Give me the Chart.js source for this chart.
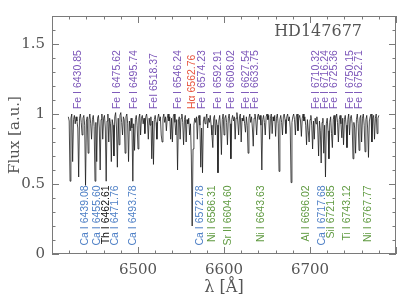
<!DOCTYPE html>
<html><head><meta charset="utf-8">
<script src="https://cdn.jsdelivr.net/npm/chart.js@4"></script>
<style>html,body{margin:0;padding:0;background:#fff}#wrap{width:403px;height:300px}</style>
</head><body><div id="wrap"><canvas id="c" width="403" height="300"></canvas></div>
<script>
// ---------- DATA ----------
const startWavelength = 6419;   // first sample (Å)
const wavelengthStep = 1;       // sampling (Å)
const flux = [
 0.98,0.95,0.52,0.97,1.00,0.66,0.96,0.99,0.93,0.98,
 0.95,0.90,0.55,0.97,1.00,0.94,0.85,0.97,0.99,0.92,
 0.49,0.95,0.98,0.72,0.96,1.00,0.93,0.82,0.96,0.99,
 0.91,0.52,0.94,0.66,0.97,0.99,0.90,0.60,0.96,1.00,
 0.82,0.97,0.99,0.90,0.52,0.95,1.00,0.80,0.97,0.93,
 0.66,0.96,0.92,0.70,0.98,1.01,0.90,0.62,0.97,0.78,
 0.99,1.01,0.94,0.85,0.98,0.96,0.72,0.98,1.00,0.93,
 0.66,0.95,0.88,0.97,0.90,0.52,0.93,0.74,0.96,0.99,
 0.92,0.75,0.97,1.00,0.85,0.97,0.99,0.93,0.97,0.86,
 0.98,1.00,0.95,0.82,0.97,0.92,0.98,0.68,0.95,0.64,
 0.96,0.99,0.94,0.82,0.97,1.00,0.95,0.98,0.85,0.80,
 0.97,1.00,0.94,0.98,0.88,0.97,1.00,0.95,0.98,0.82,
 0.97,0.80,0.98,1.00,0.94,0.85,0.96,0.60,0.95,0.98,
 0.82,0.97,1.00,0.94,0.78,0.96,0.99,0.80,0.96,0.93,
 0.97,0.85,0.93,0.70,0.20,0.75,0.92,0.97,0.94,0.98,
 0.82,0.97,0.99,0.92,0.62,0.90,0.58,0.95,0.98,0.93,
 0.97,1.00,0.90,0.97,0.94,0.99,0.92,0.85,0.76,0.97,
 0.99,0.85,0.96,0.92,0.58,0.95,0.99,0.90,0.71,0.96,
 1.00,0.85,0.97,0.99,0.94,0.78,0.97,1.00,0.93,0.68,
 0.96,0.99,0.95,0.98,0.82,0.97,1.01,0.95,0.85,0.98,
 1.00,0.80,0.97,0.95,0.99,0.93,0.87,0.98,0.92,0.72,
 0.97,1.00,0.94,0.98,0.90,0.77,0.97,1.00,0.95,0.85,
 0.98,1.00,0.96,0.99,0.92,0.60,0.96,0.99,0.94,0.85,
 0.98,1.00,0.96,0.99,0.82,0.97,1.00,0.86,0.98,0.95,
 0.99,0.84,0.97,1.00,0.93,0.59,0.96,0.99,0.94,0.85,
 0.98,1.00,0.96,0.86,0.98,1.00,0.95,0.98,0.90,0.51,
 0.94,0.98,1.00,0.96,0.85,0.98,1.00,0.88,0.97,0.99,
 0.95,0.84,0.97,1.00,0.95,0.98,0.92,0.78,0.96,0.88,
 0.80,0.96,0.99,0.92,0.75,0.95,0.82,0.97,0.93,0.98,
 0.90,0.70,0.95,0.88,0.65,0.94,0.97,0.72,0.92,0.55,
 0.93,0.97,0.88,0.68,0.94,0.98,0.86,0.76,0.96,0.99,
 0.85,0.97,1.00,0.94,0.80,0.96,0.99,0.93,0.83,0.97,
 0.78,0.96,0.99,0.92,0.76,0.96,1.00,0.85,0.97,0.99,
 0.93,0.68,0.94,0.90,0.72,0.96,1.00,0.93,0.74,0.97,
 0.99,0.80,0.97,1.00,0.92,0.73,0.96,0.99,0.90,0.69,
 0.95,0.98,1.00,0.80,0.97,0.99,0.82,0.97,1.00,0.86,
 0.97,0.99
];
const xTickLabels = [6500, 6600, 6700];
const yTickLabels = [0, 0.5, 1, 1.5];

const topLineLabels = ["Fe I 6430.85","Fe I 6475.62","Fe I 6495.74","FeI 6518.37","Fe I 6546.24","Hα 6562.76","Fe I 6574.23","Fe I 6592.91","Fe I 6608.02","Fe I 6627.54","Fe I 6633.75","Fe I 6710.32","Fe I 6716.24","Fe I 6725.36","Fe I 6750.15","Fe I 6752.71"];
const topLineWavelengths = [6430.85,6475.62,6495.74,6518.37,6546.24,6562.76,6574.23,6592.91,6608.02,6627.54,6633.75,6710.32,6716.24,6725.36,6750.15,6752.71];
const bottomLineLabels = ["Ca I 6439.08","Ca I 6455.60","Th I 6462.61","Ca I 6471.76","Ca I 6493.78","Ca I 6572.78","Ni I 6586.31","Sr II 6604.60","Ni I 6643.63","Al I 6696.02","Ca I 6717.68","SiI 6721.85","Ti I 6743.12","Ni I 6767.77"];
const bottomLineWavelengths = [6439.08,6455.60,6462.61,6471.76,6493.78,6572.78,6586.31,6604.60,6643.63,6696.02,6717.68,6721.85,6743.12,6767.77];
const starName = "HD147677";

// ---------- STYLE ----------
const speciesColor = { Fe: "#7b55b8", H: "#e8553f", Ca: "#4f80c6", Th: "#111111", Ni: "#5f9a40", Sr: "#5f9a40", Al: "#5f9a40", Si: "#5f9a40", Ti: "#5f9a40" };
const axisGray = "#7a7a7a";
const textGray = "#555555";
const serif = "'DejaVu Serif', serif";

function colorFor(label) {
  if (label.startsWith("Hα")) return speciesColor.H;
  const m = label.match(/^[A-Z][a-z]?/);
  return speciesColor[m[0]] || "#000";
}

const points = flux.map((f, i) => ({ x: startWavelength + i * wavelengthStep, y: f }));

function spread(px, gap) {
  const p = px.slice();
  for (let it = 0; it < 200; it++) {
    let moved = false;
    for (let i = 0; i < p.length - 1; i++) {
      const d = gap - (p[i + 1] - p[i]);
      if (d > 0.01) { p[i] -= d / 2; p[i + 1] += d / 2; moved = true; }
    }
    if (!moved) break;
  }
  return p;
}

const decorPlugin = {
  id: "decor",
  afterDatasetsDraw(chart) {
    const { ctx, chartArea: a, scales: { x, y } } = chart;
    ctx.save();
    // frame
    ctx.strokeStyle = axisGray; ctx.lineWidth = 1;
    ctx.strokeRect(a.left + 0.5, a.top + 0.5, a.right - a.left - 1, a.bottom - a.top - 1);
    // inward ticks
    ctx.beginPath();
    for (let v = x.min; v <= x.max + 1e-6; v += 20) {
      const px = Math.round(x.getPixelForValue(v)) + 0.5;
      const L = (Math.abs(v % 100) < 1e-6) ? 7 : 3.5;
      ctx.moveTo(px, a.bottom); ctx.lineTo(px, a.bottom - L);
      ctx.moveTo(px, a.top); ctx.lineTo(px, a.top + L);
    }
    for (let k = 0; k <= 17; k++) {
      const v = k / 10;
      const py = Math.round(y.getPixelForValue(v)) + 0.5;
      const L = (k % 5 === 0) ? 7 : 3.5;
      ctx.moveTo(a.left, py); ctx.lineTo(a.left + L, py);
      ctx.moveTo(a.right, py); ctx.lineTo(a.right - L, py);
    }
    ctx.stroke();
    // line identifications
    ctx.font = "10.5px 'Liberation Sans', sans-serif";
    ctx.textBaseline = "middle";
    const drawSet = (labels, wls, yVal, align) => {
      const px = spread(wls.map(w => x.getPixelForValue(w)), 9);
      const py = y.getPixelForValue(yVal);
      labels.forEach((t, i) => {
        ctx.save();
        ctx.translate(px[i], py);
        ctx.rotate(-Math.PI / 2);
        ctx.textAlign = align;
        ctx.fillStyle = colorFor(t);
        ctx.fillText(t, 0, 0);
        ctx.restore();
      });
    };
    drawSet(topLineLabels, topLineWavelengths, 1.035, "left");
    drawSet(bottomLineLabels, bottomLineWavelengths, 0.49, "right");
    // star name
    ctx.font = "16px " + serif;
    ctx.fillStyle = textGray;
    ctx.textAlign = "right"; ctx.textBaseline = "middle";
    ctx.fillText(starName, a.right - 34, a.top + 16);
    ctx.restore();
  }
};

new Chart(document.getElementById("c"), {
  type: "scatter",
  data: { datasets: [{ data: points, showLine: true, borderColor: "#1c1c1c", borderWidth: 0.8, pointRadius: 0, tension: 0 }] },
  options: {
    responsive: false, animation: false, devicePixelRatio: 1,
    layout: { padding: { top: 7, right: 6, left: 0, bottom: 0 } },
    plugins: { legend: { display: false }, tooltip: { enabled: false } },
    scales: {
      x: {
        type: "linear", min: 6400, max: 6800,
        grid: { display: false, drawTicks: false }, border: { display: false },
        afterFit: s => { s.height = 46; },
        ticks: { stepSize: 100, maxRotation: 0, padding: 7, color: textGray, font: { family: serif, size: 15 },
          callback: v => xTickLabels.includes(v) ? String(v) : "" },
        title: { display: true, text: "λ [Å]", color: textGray, font: { family: serif, size: 16 }, padding: { top: 0, bottom: 3 } }
      },
      y: {
        type: "linear", min: 0, max: 1.7,
        grid: { display: false, drawTicks: false }, border: { display: false },
        afterFit: s => { s.width = 52; },
        ticks: { stepSize: 0.5, padding: 7, color: textGray, font: { family: serif, size: 15 },
          callback: v => yTickLabels.some(t => Math.abs(t - v) < 1e-9) ? String(v) : "" },
        title: { display: true, text: "Flux [a.u.]", color: textGray, font: { family: serif, size: 15 }, padding: { top: 6, bottom: 0 } }
      }
    }
  },
  plugins: [decorPlugin]
});
</script>
</body></html>
